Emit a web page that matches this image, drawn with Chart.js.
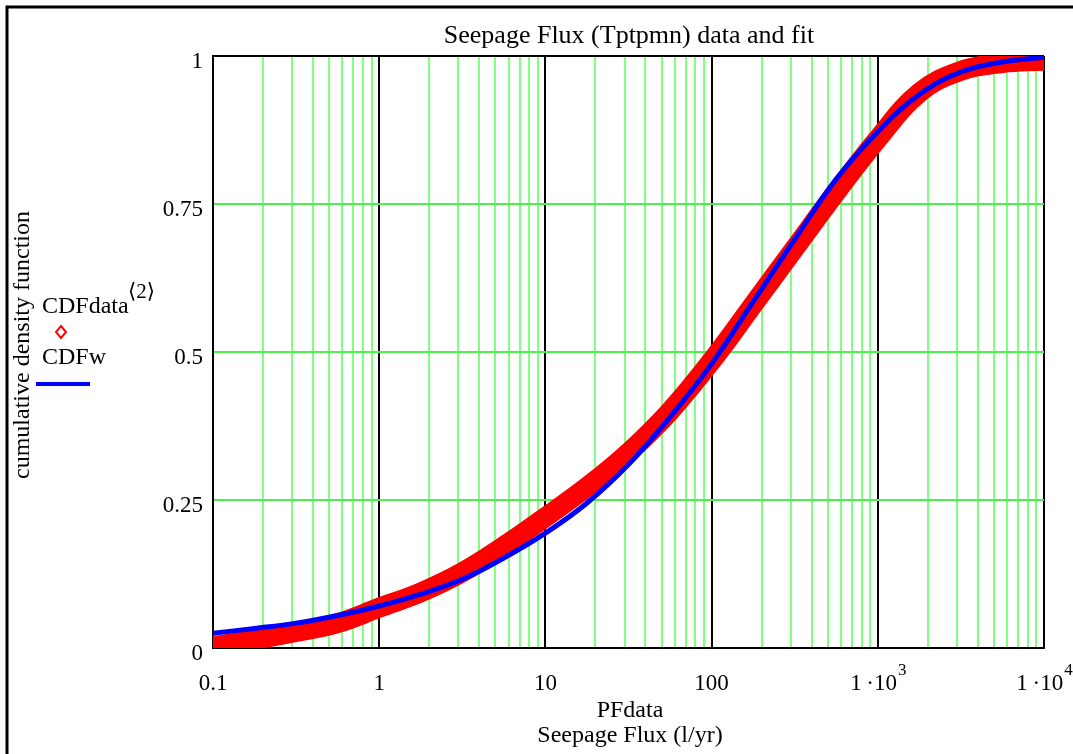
<!DOCTYPE html>
<html>
<head>
<meta charset="utf-8">
<title>Seepage Flux (Tptpmn) data and fit</title>
<script src="https://cdn.jsdelivr.net/npm/chart.js@4.4.1/dist/chart.umd.min.js"></script>
<style>
  html, body { margin: 0; padding: 0; background: #fff; }
  canvas { display: block; }
</style>
</head>
<body>
<canvas id="cdfChart" width="1073" height="754"></canvas>
<script>
// seepage flux values (l/yr) and cumulative fractions
const fluxData = [0.1, 0.178, 0.316, 0.562, 1, 1.78, 3.16, 5.62, 10, 17.8, 31.6, 56.2, 100, 178, 316, 562, 1000, 1778, 3162, 5623, 10000];
const cdfData = [0.003, 0.014, 0.027, 0.042, 0.068, 0.094, 0.128, 0.172, 0.221, 0.272, 0.33, 0.40, 0.485, 0.58, 0.675, 0.77, 0.86, 0.938, 0.975, 0.988, 0.992];

// fitted distribution
const fluxFit = [0.1, 0.178, 0.316, 0.562, 1, 1.78, 3.16, 5.62, 10, 17.8, 31.6, 56.2, 100, 178, 316, 562, 1000, 1778, 3162, 5623, 10000];
const cdfFit = [0.025, 0.033, 0.042, 0.055, 0.071, 0.091, 0.116, 0.152, 0.194, 0.245, 0.31, 0.39, 0.48, 0.585, 0.69, 0.792, 0.872, 0.935, 0.973, 0.99, 0.998];

// axis ticks
const xDecades = [0.1, 1, 10, 100, 1000, 10000];
const xTickText = ['0.1', '1', '10', '100', '1\u2009\u00b710', '1\u2009\u00b710'];
const xTickExp = ['', '', '', '', '3', '4'];
const yTicks = [0, 0.25, 0.5, 0.75, 1];
const yTickText = ['0', '0.25', '0.5', '0.75', '1'];

const serif = '"Liberation Serif", "Times New Roman", "DejaVu Serif", serif';

// gridlines at 1..9 of every decade
const xGrid = [];
xDecades.forEach((d, i) => {
  for (let m = 1; m <= 9; m++) {
    if (i === xDecades.length - 1 && m > 1) break;
    xGrid.push(d * m);
  }
});
const isDecade = v => Math.abs(Math.log10(v) - Math.round(Math.log10(v))) < 1e-9;

const toPoints = (xs, ys) => xs.map((x, i) => ({ x: x, y: ys[i] }));

const labelsPlugin = {
  id: 'cdfLabels',
  afterDraw(chart) {
    const { ctx, scales } = chart;
    const xs = scales.x;
    const ys = scales.y;
    ctx.save();

    // outer frame
    ctx.strokeStyle = '#000';
    ctx.lineWidth = 3;
    ctx.beginPath();
    ctx.moveTo(7, 754);
    ctx.lineTo(7, 7);
    ctx.lineTo(1073, 7);
    ctx.stroke();

    ctx.fillStyle = '#000';
    ctx.textBaseline = 'alphabetic';

    // title
    ctx.font = '26px ' + serif;
    ctx.textAlign = 'center';
    ctx.fillText('Seepage Flux (Tptpmn) data and fit', 629, 43);

    // y tick labels
    ctx.font = '23px ' + serif;
    ctx.textAlign = 'right';
    yTicks.forEach((v, i) => {
      ctx.fillText(yTickText[i], 203, ys.getPixelForValue(v) + 12);
    });

    // x tick labels, with raised exponents
    ctx.textAlign = 'left';
    xDecades.forEach((v, i) => {
      ctx.font = '23px ' + serif;
      const w1 = ctx.measureText(xTickText[i]).width;
      ctx.font = '17px ' + serif;
      const w2 = xTickExp[i] ? ctx.measureText(xTickExp[i]).width : 0;
      const left = xs.getPixelForValue(v) - (w1 + w2) / 2;
      ctx.font = '23px ' + serif;
      ctx.fillText(xTickText[i], left, 690);
      if (xTickExp[i]) {
        ctx.font = '17px ' + serif;
        ctx.fillText(xTickExp[i], left + w1 + 1, 675);
      }
    });

    // axis titles
    ctx.font = '24px ' + serif;
    ctx.textAlign = 'center';
    ctx.fillText('PFdata', 630, 717);
    ctx.fillText('Seepage Flux (l/yr)', 630, 742);

    ctx.save();
    ctx.translate(29, 345);
    ctx.rotate(-Math.PI / 2);
    ctx.fillText('cumulative density function', 0, 0);
    ctx.restore();

    // legend
    ctx.textAlign = 'left';
    ctx.font = '24px ' + serif;
    ctx.fillText('CDFdata', 42, 313);
    ctx.font = '21px ' + serif;
    ctx.fillText('\u27e82\u27e9', 128, 298);
    ctx.font = '24px ' + serif;
    ctx.fillText('CDFw', 42, 364);

    ctx.strokeStyle = '#ff0000';
    ctx.lineWidth = 2;
    ctx.beginPath();
    ctx.moveTo(61, 326);
    ctx.lineTo(66, 332);
    ctx.lineTo(61, 338);
    ctx.lineTo(56, 332);
    ctx.closePath();
    ctx.stroke();

    ctx.strokeStyle = '#0000ff';
    ctx.lineWidth = 4;
    ctx.beginPath();
    ctx.moveTo(36, 384);
    ctx.lineTo(90, 384);
    ctx.stroke();

    ctx.restore();
  }
};

new Chart(document.getElementById('cdfChart'), {
  type: 'line',
  data: {
    datasets: [
      {
        label: 'CDFw',
        data: toPoints(fluxFit, cdfFit),
        borderColor: '#0000ff',
        borderWidth: 5,
        pointRadius: 0,
        tension: 0.4,
        order: 0
      },
      {
        label: 'CDFdata',
        data: toPoints(fluxData, cdfData),
        borderColor: '#ff0000',
        backgroundColor: '#ff0000',
        borderWidth: 20,
        borderJoinStyle: 'round',
        pointStyle: 'rectRot',
        pointRadius: 0,
        tension: 0.4,
        order: 1
      }
    ]
  },
  options: {
    responsive: false,
    animation: false,
    events: [],
    layout: { padding: { left: 213, top: 56, right: 29, bottom: 106 } },
    plugins: {
      legend: { display: false },
      tooltip: { enabled: false }
    },
    scales: {
      x: {
        type: 'logarithmic',
        min: 0.1,
        max: 10000,
        afterBuildTicks: s => { s.ticks = xGrid.map(v => ({ value: v, major: isDecade(v) })); },
        afterFit: s => { s.height = 0; },
        ticks: { display: false },
        grid: {
          color: c => (c.tick && isDecade(c.tick.value)) ? '#000000' : '#80ff80',
          lineWidth: 2,
          drawTicks: false
        },
        border: { color: '#000000', width: 2 }
      },
      y: {
        min: 0,
        max: 1,
        afterBuildTicks: s => { s.ticks = yTicks.map(v => ({ value: v })); },
        afterFit: s => { s.width = 0; },
        ticks: { display: false },
        grid: {
          color: c => (c.tick && (c.tick.value === 0 || c.tick.value === 1)) ? '#000000' : '#4cf04c',
          lineWidth: 2,
          drawTicks: false
        },
        border: { color: '#000000', width: 2 }
      }
    }
  },
  plugins: [labelsPlugin]
});
</script>
</body>
</html>
